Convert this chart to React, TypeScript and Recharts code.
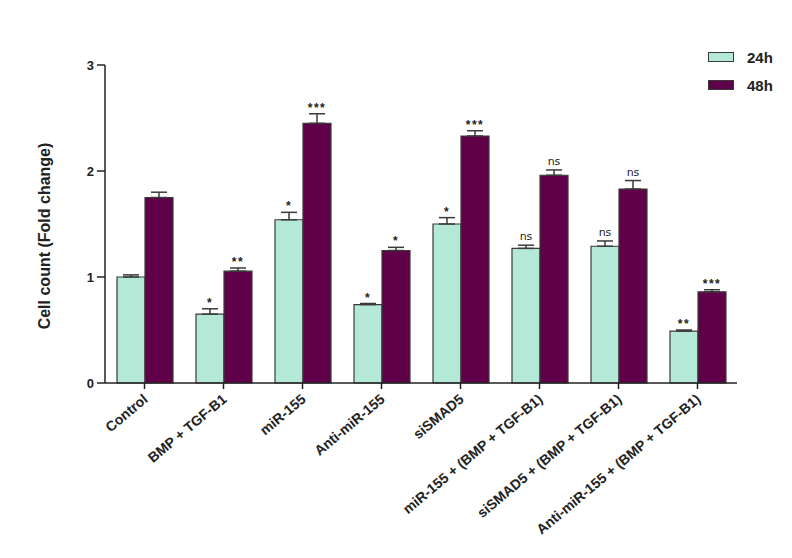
import React from 'react';
import { BarChart, Bar, XAxis, YAxis, ErrorBar, LabelList } from 'recharts';

const categories = [
  'Control',
  'BMP + TGF-B1',
  'miR-155',
  'Anti-miR-155',
  'siSMAD5',
  'miR-155 + (BMP + TGF-B1)',
  'siSMAD5 + (BMP + TGF-B1)',
  'Anti-miR-155 + (BMP + TGF-B1)',
];
const h24 = [1.0, 0.65, 1.54, 0.74, 1.5, 1.27, 1.29, 0.49];
const h48 = [1.75, 1.055, 2.45, 1.25, 2.33, 1.96, 1.83, 0.86];
const err24 = [0.02, 0.05, 0.07, 0.01, 0.06, 0.03, 0.05, 0.01];
const err48 = [0.05, 0.03, 0.09, 0.03, 0.05, 0.05, 0.08, 0.02];
const sig24 = ['', '*', '*', '*', '*', 'ns', 'ns', '**'];
const sig48 = ['', '**', '***', '*', '***', 'ns', 'ns', '***'];
const yTicks = [0, 1, 2, 3];
const seriesNames = ['24h', '48h'];

const MINT = '#b4e9d8';
const PLUM = '#5f0049';
const EDGE = '#3a3a3a';
const FONT = '"Liberation Sans", Arial, sans-serif';

const data = categories.map((name, i) => ({
  name,
  h24: h24[i],
  h48: h48[i],
  e24: [0, err24[i]],
  e48: [0, err48[i]],
  s24: sig24[i],
  s48: sig48[i],
}));

// star / ns label placed just above the error bar cap
const sigLabel = (vals: number[], errs: number[]) => (props: any) => {
  const { x, y, width, height, value, index } = props;
  if (!value) return null;
  const pxPerUnit = height / vals[index];
  const top = y - errs[index] * pxPerUnit;
  const isNs = value === 'ns';
  return (
    <text
      x={x + width / 2}
      y={top - (isNs ? 5 : 2)}
      textAnchor="middle"
      fontFamily={isNs ? '"DejaVu Sans", sans-serif' : FONT}
      fontSize={isNs ? 11 : 12}
      fontWeight={isNs ? 'normal' : 'bold'}
      letterSpacing={isNs ? 0 : 1.5}
      fill="#222"
    >
      {value}
    </text>
  );
};

const XTick = (props: any) => {
  const { x, y, payload } = props;
  return (
    <g transform={`translate(${x + 1},${y + 6}) rotate(-40)`}>
      <text textAnchor="end" dy="0.35em" fontFamily={FONT} fontWeight="bold" fontSize={14} fill="#222">
        {payload.value}
      </text>
    </g>
  );
};

const legendColors = [MINT, PLUM];

export default function App() {
  return (
    <div style={{ position: 'absolute', left: 0, top: 0, width: 792, height: 558, background: '#fff' }}>
      <BarChart
        width={792}
        height={558}
        data={data}
        margin={{ top: 65, right: 55, left: 45, bottom: 5 }}
        barCategoryGap={12}
        barGap={0}
      >
        <XAxis
          dataKey="name"
          interval={0}
          height={170}
          tick={<XTick />}
          tickSize={6}
          axisLine={{ stroke: '#222', strokeWidth: 1.5 }}
          tickLine={{ stroke: '#222', strokeWidth: 1.5 }}
        />
        <YAxis
          width={60}
          domain={[0, 3]}
          ticks={yTicks}
          tickSize={8}
          tickMargin={3}
          axisLine={{ stroke: '#222', strokeWidth: 1.5 }}
          tickLine={{ stroke: '#222', strokeWidth: 1.5 }}
          tick={{ fontFamily: FONT, fontWeight: 'bold', fontSize: 13, fill: '#222' }}
          label={{
            value: 'Cell count (Fold change)',
            angle: -90,
            position: 'left',
            offset: 1,
            dy: 12,
            style: { fontFamily: FONT, fontWeight: 'bold', fontSize: 16, fill: '#222', textAnchor: 'middle' },
          }}
        />
        <Bar dataKey="h24" name="24h" fill={MINT} stroke={EDGE} strokeWidth={1.2} isAnimationActive={false}>
          <ErrorBar dataKey="e24" direction="y" width={8} stroke={EDGE} strokeWidth={1.5} />
          <LabelList dataKey="s24" content={sigLabel(h24, err24)} />
        </Bar>
        <Bar dataKey="h48" name="48h" fill={PLUM} stroke={EDGE} strokeWidth={1.2} isAnimationActive={false}>
          <ErrorBar dataKey="e48" direction="y" width={8} stroke={EDGE} strokeWidth={1.5} />
          <LabelList dataKey="s48" content={sigLabel(h48, err48)} />
        </Bar>
      </BarChart>
      <div
        style={{
          position: 'absolute',
          left: 708,
          top: 43,
          fontFamily: FONT,
          fontWeight: 'bold',
          fontSize: 15,
          color: '#222',
        }}
      >
        {seriesNames.map((label, i) => (
          <div key={label} style={{ display: 'flex', alignItems: 'center', height: 28 }}>
            <span
              style={{
                display: 'inline-block',
                width: 24,
                height: 8,
                background: legendColors[i],
                border: `1px solid ${EDGE}`,
                marginRight: 13,
              }}
            />
            {label}
          </div>
        ))}
      </div>
    </div>
  );
}
